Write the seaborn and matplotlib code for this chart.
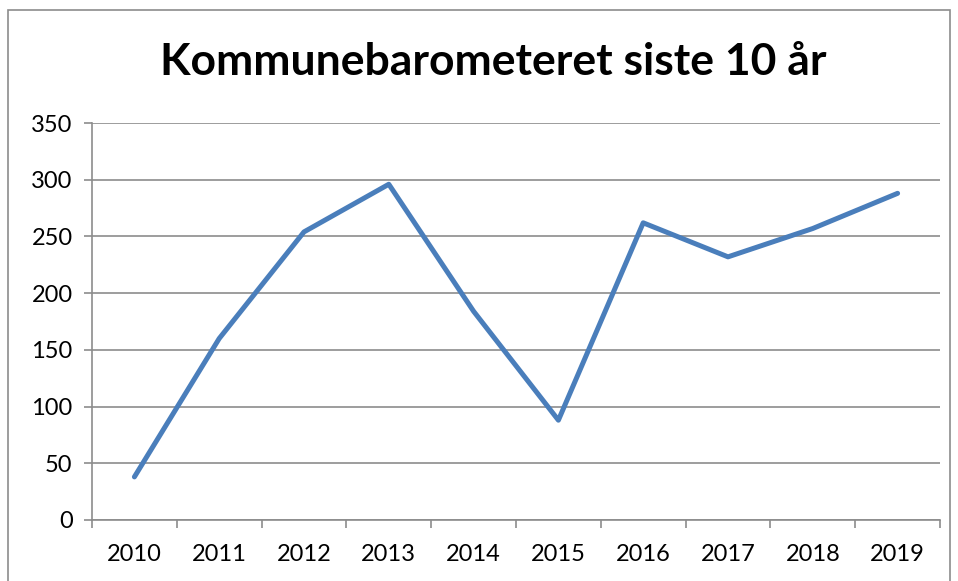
import pandas as pd
import matplotlib.pyplot as plt
import seaborn as sns
from matplotlib.patches import Rectangle

# Data
years = ['2010', '2011', '2012', '2013', '2014', '2015', '2016', '2017', '2018', '2019']
values = [38, 160, 254, 296, 184, 88, 262, 232, 257, 288]

df = pd.DataFrame({'year': years, 'value': values})

sns.set_style('white')
plt.rcParams['font.family'] = ['Lato', 'DejaVu Sans']
plt.rcParams['text.color'] = 'black'
plt.rcParams['xtick.labelcolor'] = 'black'
plt.rcParams['ytick.labelcolor'] = 'black'

fig = plt.figure(figsize=(9.58, 5.81), dpi=100)
ax = fig.add_axes([92 / 958, 61 / 581, 848 / 958, 397 / 581])

sns.lineplot(data=df, x='year', y='value', color='#4A7EBB', linewidth=3.6,
             sort=False, ax=ax)

# y axis
ax.set_ylim(0, 350)
ax.set_yticks(range(0, 351, 50))
ax.yaxis.grid(True, color='#8C8C8C', linewidth=1.2)
ax.set_axisbelow(True)

# x axis: labels at category centers, ticks at boundaries
ax.set_xlim(-0.5, len(years) - 0.5)
ax.set_xticks(range(len(years)))
ax.set_xticklabels(years)
ax.set_xticks([i - 0.5 for i in range(len(years) + 1)], minor=True)
ax.tick_params(axis='x', which='major', length=0, pad=17, labelsize=17)
ax.tick_params(axis='x', which='minor', length=6, width=1.2, color='#8C8C8C',
               direction='out', bottom=True)
ax.tick_params(axis='y', which='major', length=6, width=1.2, color='#8C8C8C',
               direction='out', left=True, pad=8, labelsize=17)

ax.set_xlabel('')
ax.set_ylabel('')

for side in ['top', 'right']:
    ax.spines[side].set_visible(False)
for side in ['left', 'bottom']:
    ax.spines[side].set_color('#8C8C8C')
    ax.spines[side].set_linewidth(1.2)

fig.suptitle('Kommunebarometeret siste 10 år', fontsize=32, fontweight='bold',
             color='black', x=493 / 958, y=1 - 62 / 581, va='center')

# outer chart border
fig.patches.append(Rectangle((8 / 958, -0.01), 942 / 958, 1 - 10 / 581 + 0.01,
                             transform=fig.transFigure, fill=False,
                             edgecolor='#8C8C8C', linewidth=1.2))

fig.savefig('out.png', dpi=100)
